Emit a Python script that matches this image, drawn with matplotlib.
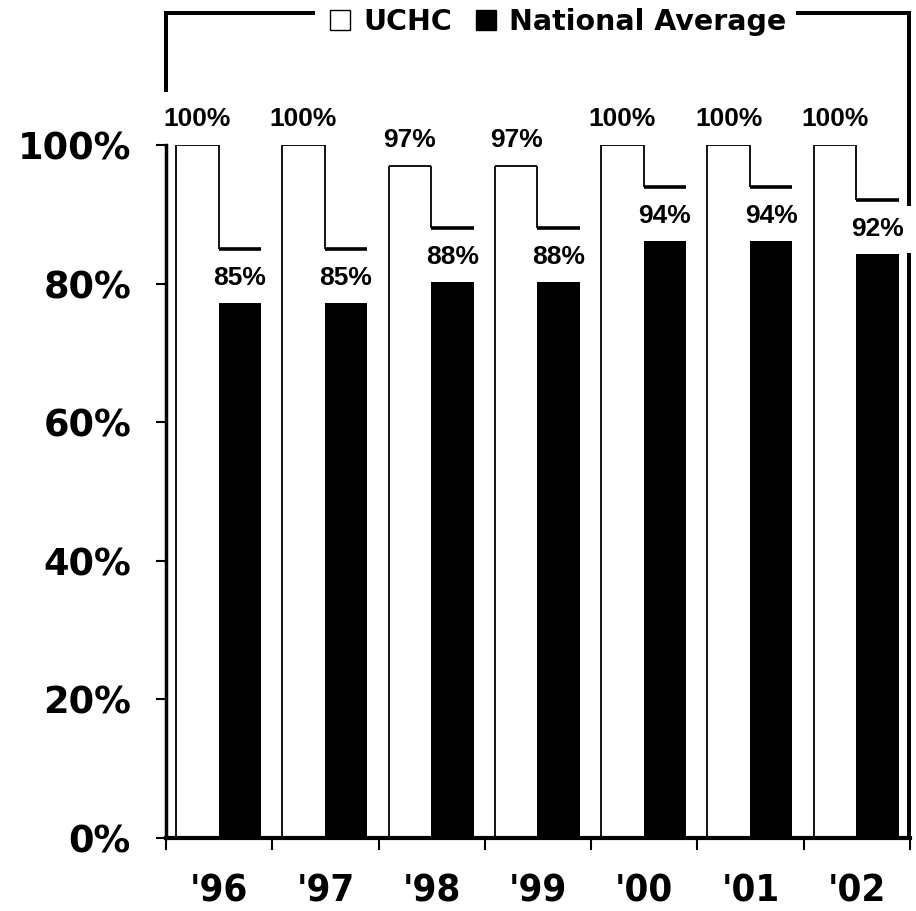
import numpy as np
import matplotlib
matplotlib.use("Agg")
import matplotlib.pyplot as plt
from matplotlib.patches import Patch
from matplotlib.lines import Line2D

years = ["'96", "'97", "'98", "'99", "'00", "'01", "'02"]
uchc = [100, 100, 97, 97, 100, 100, 100]
national = [85, 85, 88, 88, 94, 94, 92]
# the filled part of the national bars sits lower than the value line in the original
national_fill = [77.2, 77.2, 80.3, 80.3, 86.2, 86.2, 84.3]
yticks = [0, 20, 40, 60, 80, 100]

W, H, DPI = 916, 911, 100
PX = 72 / DPI  # pixel -> point

fig = plt.figure(figsize=(W / DPI, H / DPI), dpi=DPI)
ax = fig.add_axes([166 / W, (H - 838) / H, 744 / W, 693 / H])

x = np.arange(len(years))
bw = 0.4
xu = x - 0.206
xn = x + 0.194

# UCHC bars: white face, outline drawn by hand so the right edge stops at the national line
ax.bar(xu, uchc, bw, color="white", edgecolor="none", zorder=2)
ax.vlines(xu - bw / 2, 0, uchc, color="black", lw=1.3, zorder=3)
ax.hlines(uchc, xu - bw / 2, xu + bw / 2, color="black", lw=1.3, zorder=3)
ax.vlines(xu + bw / 2, national, uchc, color="black", lw=1.3, zorder=3)

# national average: value line plus the black fill underneath
ax.hlines(national, xn - bw / 2, xn + bw / 2, color="black", lw=2.6, zorder=3)
ax.bar(xn, national_fill, bw, color="black", edgecolor="none", zorder=2)

for xi, v in zip(xu, uchc):
    ax.annotate(f"{v}%", (xi, v), xytext=(0, 26 * PX), textcoords="offset points",
                ha="center", va="center", fontsize=19, fontweight="bold",
                family="Liberation Sans", annotation_clip=False, zorder=5)
for xi, v in zip(xn, national):
    ax.annotate(f"{v}%", (xi, v), xytext=(0, -29 * PX), textcoords="offset points",
                ha="center", va="center", fontsize=19, fontweight="bold",
                family="Liberation Sans", annotation_clip=False, zorder=5,
                bbox=dict(boxstyle="square,pad=0.45", fc="white", ec="none"))

ax.set_xlim(-0.5, len(years) - 0.5)
ax.set_ylim(0, 100)

ax.set_yticks(yticks)
ax.set_yticklabels([f"{t}%" for t in yticks], fontsize=26.5, fontweight="bold",
                   family="DejaVu Sans")
ax.tick_params(axis="y", length=10 * PX, width=1.5, pad=25 * PX)

ax.set_xticks(np.arange(len(years) + 1) - 0.5)
ax.set_xticklabels([])
ax.tick_params(axis="x", which="major", length=12 * PX, width=1.5)
ax.set_xticks(x, minor=True)
ax.set_xticklabels(years, minor=True, fontsize=27.5, fontweight="bold",
                   family="DejaVu Sans", fontstretch="condensed")
ax.tick_params(axis="x", which="minor", length=0, pad=36 * PX)

for s in ["top", "right"]:
    ax.spines[s].set_visible(False)
ax.spines["left"].set_linewidth(2.5)
ax.spines["bottom"].set_linewidth(3)
ax.spines["left"].set_zorder(4)
ax.spines["bottom"].set_zorder(4)


def fx(px):
    return px / W


def fy(py):
    return 1 - py / H


# frame around the chart, broken by the legend
frame = [
    ([165.5, 165.5, 313], [90, 12.5, 12.5]),
    ([798, 909, 909], [12.5, 12.5, 838]),
]
for xs, ys in frame:
    ax.add_line(Line2D([fx(v) for v in xs], [fy(v) for v in ys], transform=fig.transFigure,
                       color="black", lw=4 * PX, clip_on=False, zorder=1,
                       solid_joinstyle="miter", solid_capstyle="projecting"))

handles = [Patch(facecolor="white", edgecolor="black", lw=1.0, label="UCHC"),
           Patch(facecolor="black", edgecolor="black", label="National Average")]
fig.legend(handles=handles, loc="center", bbox_to_anchor=(fx(558), fy(22)), ncol=2,
           frameon=False, prop=dict(family="DejaVu Sans", weight="bold", size=20.5),
           handlelength=0.7, handleheight=0.7, handletextpad=0.45,
           columnspacing=0.85, borderpad=0, borderaxespad=0)

fig.savefig("out.png", dpi=DPI)
